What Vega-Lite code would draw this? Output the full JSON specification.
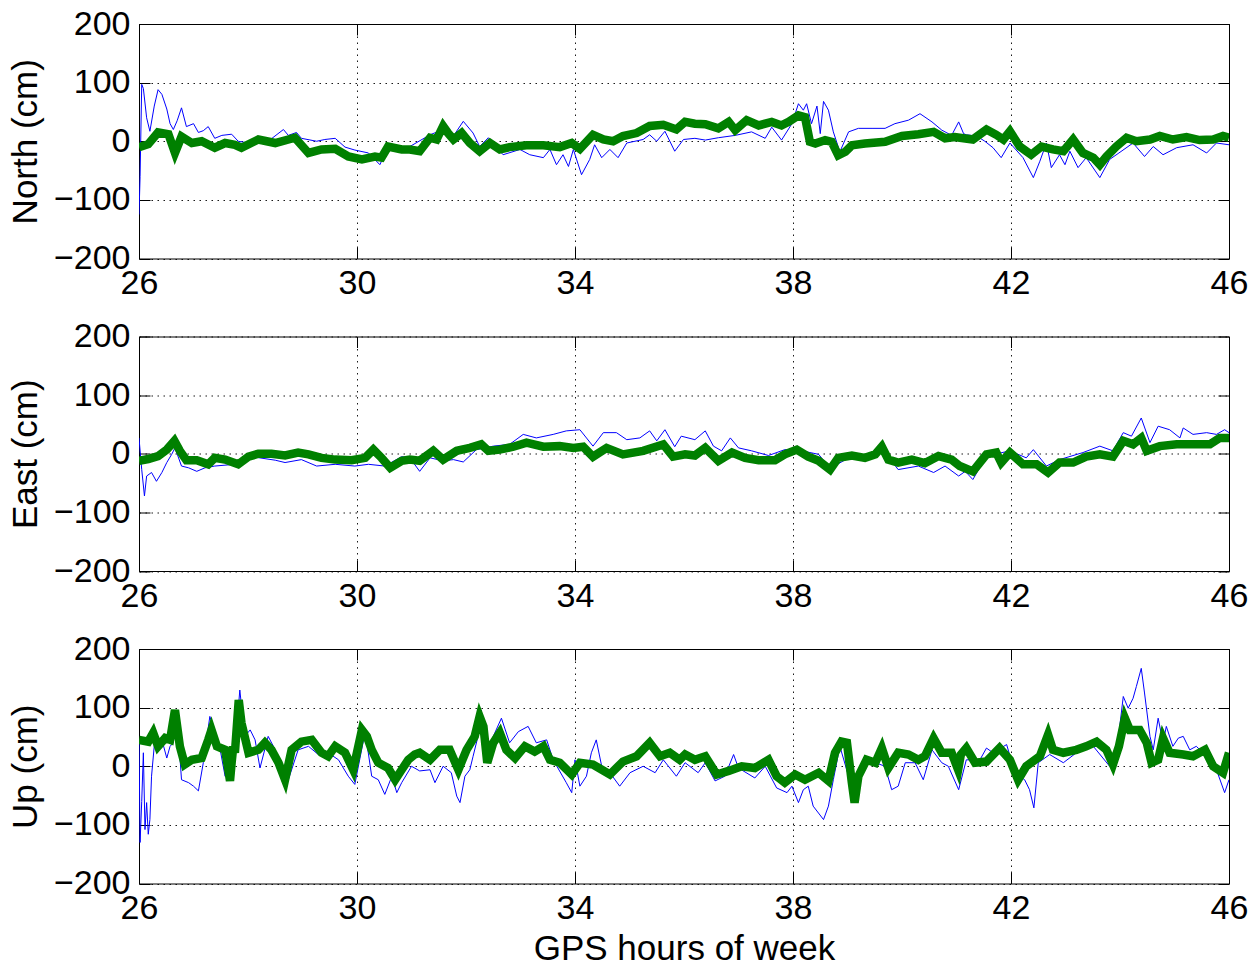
{
"$schema":"https://vega.github.io/schema/vega-lite/v6.json",
"background":"white",
"padding":{"left":7,"top":6,"right":0,"bottom":0},
"spacing":77.5,
"bounds":"flush",
"config":{
 "font":"Liberation Sans",
 "view":{"stroke":"#000","strokeWidth":1},
 "axis":{"labelFont":"Liberation Sans","labelFontSize":34,"labelColor":"#000","titleFont":"Liberation Sans","titleFontSize":35,"titleFontWeight":"normal","titleColor":"#000","domain":false,"grid":true,"gridColor":"#000","gridDash":[1.5,4.5],"gridOpacity":0.9,"tickColor":"#000","tickSize":-11,"labelFlush":false,"labelOverlap":false}
},
"data":{"values":[
{"c":"N","s":"b","t":26.0,"v":-125},{"c":"N","s":"b","t":26.02,"v":-60},{"c":"N","s":"b","t":26.05,"v":97},{"c":"N","s":"b","t":26.08,"v":90},{"c":"N","s":"b","t":26.14,"v":40},{"c":"N","s":"b","t":26.2,"v":17},{"c":"N","s":"b","t":26.28,"v":60},{"c":"N","s":"b","t":26.35,"v":88},{"c":"N","s":"b","t":26.42,"v":80},{"c":"N","s":"b","t":26.51,"v":55},{"c":"N","s":"b","t":26.57,"v":30},{"c":"N","s":"b","t":26.63,"v":20},{"c":"N","s":"b","t":26.7,"v":35},{"c":"N","s":"b","t":26.78,"v":57},{"c":"N","s":"b","t":26.87,"v":25},{"c":"N","s":"b","t":27.0,"v":30},{"c":"N","s":"b","t":27.09,"v":15},{"c":"N","s":"b","t":27.18,"v":18},{"c":"N","s":"b","t":27.27,"v":25},{"c":"N","s":"b","t":27.39,"v":5},{"c":"N","s":"b","t":27.52,"v":10},{"c":"N","s":"b","t":27.7,"v":12},{"c":"N","s":"b","t":27.82,"v":0},{"c":"N","s":"b","t":28.01,"v":-3},{"c":"N","s":"b","t":28.37,"v":0},{"c":"N","s":"b","t":28.65,"v":20},{"c":"N","s":"b","t":28.74,"v":10},{"c":"N","s":"b","t":28.89,"v":15},{"c":"N","s":"b","t":28.98,"v":5},{"c":"N","s":"b","t":29.26,"v":0},{"c":"N","s":"b","t":29.41,"v":3},{"c":"N","s":"b","t":29.6,"v":5},{"c":"N","s":"b","t":29.78,"v":-10},{"c":"N","s":"b","t":29.96,"v":-15},{"c":"N","s":"b","t":30.21,"v":-20},{"c":"N","s":"b","t":30.42,"v":-40},{"c":"N","s":"b","t":30.57,"v":-10},{"c":"N","s":"b","t":30.82,"v":-10},{"c":"N","s":"b","t":30.97,"v":-9},{"c":"N","s":"b","t":31.34,"v":11},{"c":"N","s":"b","t":31.58,"v":20},{"c":"N","s":"b","t":31.77,"v":9},{"c":"N","s":"b","t":31.95,"v":34},{"c":"N","s":"b","t":32.13,"v":14},{"c":"N","s":"b","t":32.25,"v":-9},{"c":"N","s":"b","t":32.41,"v":6},{"c":"N","s":"b","t":32.68,"v":-23},{"c":"N","s":"b","t":32.99,"v":-14},{"c":"N","s":"b","t":33.17,"v":-23},{"c":"N","s":"b","t":33.42,"v":-28},{"c":"N","s":"b","t":33.54,"v":-14},{"c":"N","s":"b","t":33.66,"v":-40},{"c":"N","s":"b","t":33.78,"v":-23},{"c":"N","s":"b","t":33.88,"v":-43},{"c":"N","s":"b","t":33.97,"v":-14},{"c":"N","s":"b","t":34.12,"v":-57},{"c":"N","s":"b","t":34.27,"v":-31},{"c":"N","s":"b","t":34.36,"v":-6},{"c":"N","s":"b","t":34.49,"v":-28},{"c":"N","s":"b","t":34.64,"v":-14},{"c":"N","s":"b","t":34.79,"v":-28},{"c":"N","s":"b","t":34.95,"v":-3},{"c":"N","s":"b","t":35.25,"v":3},{"c":"N","s":"b","t":35.37,"v":11},{"c":"N","s":"b","t":35.5,"v":0},{"c":"N","s":"b","t":35.65,"v":17},{"c":"N","s":"b","t":35.83,"v":-17},{"c":"N","s":"b","t":35.99,"v":3},{"c":"N","s":"b","t":36.2,"v":5},{"c":"N","s":"b","t":36.39,"v":2},{"c":"N","s":"b","t":36.63,"v":6},{"c":"N","s":"b","t":36.94,"v":10},{"c":"N","s":"b","t":37.24,"v":16},{"c":"N","s":"b","t":37.49,"v":5},{"c":"N","s":"b","t":37.61,"v":24},{"c":"N","s":"b","t":37.79,"v":2},{"c":"N","s":"b","t":37.98,"v":30},{"c":"N","s":"b","t":38.1,"v":64},{"c":"N","s":"b","t":38.19,"v":53},{"c":"N","s":"b","t":38.25,"v":64},{"c":"N","s":"b","t":38.34,"v":30},{"c":"N","s":"b","t":38.44,"v":60},{"c":"N","s":"b","t":38.5,"v":13},{"c":"N","s":"b","t":38.56,"v":68},{"c":"N","s":"b","t":38.65,"v":53},{"c":"N","s":"b","t":38.74,"v":16},{"c":"N","s":"b","t":38.86,"v":-18},{"c":"N","s":"b","t":39.02,"v":16},{"c":"N","s":"b","t":39.2,"v":22},{"c":"N","s":"b","t":39.45,"v":22},{"c":"N","s":"b","t":39.69,"v":22},{"c":"N","s":"b","t":39.87,"v":30},{"c":"N","s":"b","t":40.12,"v":36},{"c":"N","s":"b","t":40.33,"v":47},{"c":"N","s":"b","t":40.55,"v":33},{"c":"N","s":"b","t":40.73,"v":19},{"c":"N","s":"b","t":40.91,"v":10},{"c":"N","s":"b","t":41.04,"v":33},{"c":"N","s":"b","t":41.13,"v":13},{"c":"N","s":"b","t":41.18,"v":11},{"c":"N","s":"b","t":41.37,"v":9},{"c":"N","s":"b","t":41.52,"v":0},{"c":"N","s":"b","t":41.67,"v":-11},{"c":"N","s":"b","t":41.82,"v":-28},{"c":"N","s":"b","t":41.98,"v":-3},{"c":"N","s":"b","t":42.22,"v":-28},{"c":"N","s":"b","t":42.41,"v":-62},{"c":"N","s":"b","t":42.53,"v":-34},{"c":"N","s":"b","t":42.65,"v":-3},{"c":"N","s":"b","t":42.74,"v":-45},{"c":"N","s":"b","t":42.89,"v":-23},{"c":"N","s":"b","t":42.99,"v":-40},{"c":"N","s":"b","t":43.08,"v":-17},{"c":"N","s":"b","t":43.23,"v":-45},{"c":"N","s":"b","t":43.38,"v":-28},{"c":"N","s":"b","t":43.63,"v":-62},{"c":"N","s":"b","t":43.81,"v":-31},{"c":"N","s":"b","t":43.98,"v":-20},{"c":"N","s":"b","t":44.24,"v":-3},{"c":"N","s":"b","t":44.45,"v":-26},{"c":"N","s":"b","t":44.61,"v":-9},{"c":"N","s":"b","t":44.79,"v":-23},{"c":"N","s":"b","t":45.04,"v":-11},{"c":"N","s":"b","t":45.34,"v":-6},{"c":"N","s":"b","t":45.59,"v":-20},{"c":"N","s":"b","t":45.77,"v":-3},{"c":"N","s":"b","t":46.0,"v":-6},
{"c":"N","s":"g","t":26.0,"v":-10},{"c":"N","s":"g","t":26.17,"v":-5},{"c":"N","s":"g","t":26.35,"v":15},{"c":"N","s":"g","t":26.54,"v":12},{"c":"N","s":"g","t":26.66,"v":-20},{"c":"N","s":"g","t":26.78,"v":8},{"c":"N","s":"g","t":26.97,"v":-3},{"c":"N","s":"g","t":27.15,"v":0},{"c":"N","s":"g","t":27.39,"v":-11},{"c":"N","s":"g","t":27.58,"v":-3},{"c":"N","s":"g","t":27.76,"v":-6},{"c":"N","s":"g","t":27.88,"v":-11},{"c":"N","s":"g","t":28.19,"v":3},{"c":"N","s":"g","t":28.5,"v":-3},{"c":"N","s":"g","t":28.86,"v":6},{"c":"N","s":"g","t":29.11,"v":-20},{"c":"N","s":"g","t":29.35,"v":-14},{"c":"N","s":"g","t":29.6,"v":-13},{"c":"N","s":"g","t":29.84,"v":-26},{"c":"N","s":"g","t":30.09,"v":-31},{"c":"N","s":"g","t":30.33,"v":-26},{"c":"N","s":"g","t":30.45,"v":-28},{"c":"N","s":"g","t":30.57,"v":-9},{"c":"N","s":"g","t":30.82,"v":-14},{"c":"N","s":"g","t":30.97,"v":-14},{"c":"N","s":"g","t":31.15,"v":-17},{"c":"N","s":"g","t":31.34,"v":6},{"c":"N","s":"g","t":31.46,"v":3},{"c":"N","s":"g","t":31.58,"v":26},{"c":"N","s":"g","t":31.67,"v":14},{"c":"N","s":"g","t":31.77,"v":3},{"c":"N","s":"g","t":31.92,"v":14},{"c":"N","s":"g","t":32.07,"v":-3},{"c":"N","s":"g","t":32.25,"v":-17},{"c":"N","s":"g","t":32.44,"v":-3},{"c":"N","s":"g","t":32.62,"v":-14},{"c":"N","s":"g","t":32.8,"v":-10},{"c":"N","s":"g","t":33.11,"v":-7},{"c":"N","s":"g","t":33.42,"v":-7},{"c":"N","s":"g","t":33.72,"v":-10},{"c":"N","s":"g","t":33.94,"v":-3},{"c":"N","s":"g","t":34.09,"v":-13},{"c":"N","s":"g","t":34.33,"v":11},{"c":"N","s":"g","t":34.52,"v":3},{"c":"N","s":"g","t":34.7,"v":0},{"c":"N","s":"g","t":34.88,"v":9},{"c":"N","s":"g","t":35.13,"v":14},{"c":"N","s":"g","t":35.37,"v":26},{"c":"N","s":"g","t":35.62,"v":28},{"c":"N","s":"g","t":35.86,"v":20},{"c":"N","s":"g","t":36.02,"v":33},{"c":"N","s":"g","t":36.2,"v":30},{"c":"N","s":"g","t":36.39,"v":29},{"c":"N","s":"g","t":36.63,"v":22},{"c":"N","s":"g","t":36.82,"v":33},{"c":"N","s":"g","t":36.94,"v":19},{"c":"N","s":"g","t":37.15,"v":36},{"c":"N","s":"g","t":37.37,"v":27},{"c":"N","s":"g","t":37.61,"v":33},{"c":"N","s":"g","t":37.79,"v":27},{"c":"N","s":"g","t":37.92,"v":33},{"c":"N","s":"g","t":38.1,"v":44},{"c":"N","s":"g","t":38.22,"v":41},{"c":"N","s":"g","t":38.31,"v":-1},{"c":"N","s":"g","t":38.41,"v":-4},{"c":"N","s":"g","t":38.59,"v":2},{"c":"N","s":"g","t":38.71,"v":-1},{"c":"N","s":"g","t":38.83,"v":-24},{"c":"N","s":"g","t":38.96,"v":-18},{"c":"N","s":"g","t":39.08,"v":-7},{"c":"N","s":"g","t":39.32,"v":-4},{"c":"N","s":"g","t":39.69,"v":-1},{"c":"N","s":"g","t":40.0,"v":9},{"c":"N","s":"g","t":40.3,"v":12},{"c":"N","s":"g","t":40.58,"v":16},{"c":"N","s":"g","t":40.79,"v":5},{"c":"N","s":"g","t":40.97,"v":7},{"c":"N","s":"g","t":41.06,"v":6},{"c":"N","s":"g","t":41.3,"v":3},{"c":"N","s":"g","t":41.55,"v":20},{"c":"N","s":"g","t":41.73,"v":11},{"c":"N","s":"g","t":41.86,"v":3},{"c":"N","s":"g","t":41.98,"v":17},{"c":"N","s":"g","t":42.16,"v":-9},{"c":"N","s":"g","t":42.37,"v":-23},{"c":"N","s":"g","t":42.56,"v":-9},{"c":"N","s":"g","t":42.77,"v":-14},{"c":"N","s":"g","t":42.96,"v":-17},{"c":"N","s":"g","t":43.14,"v":3},{"c":"N","s":"g","t":43.32,"v":-20},{"c":"N","s":"g","t":43.51,"v":-28},{"c":"N","s":"g","t":43.63,"v":-40},{"c":"N","s":"g","t":43.75,"v":-26},{"c":"N","s":"g","t":43.93,"v":-9},{"c":"N","s":"g","t":44.12,"v":6},{"c":"N","s":"g","t":44.3,"v":0},{"c":"N","s":"g","t":44.55,"v":3},{"c":"N","s":"g","t":44.73,"v":9},{"c":"N","s":"g","t":44.97,"v":3},{"c":"N","s":"g","t":45.22,"v":7},{"c":"N","s":"g","t":45.46,"v":2},{"c":"N","s":"g","t":45.71,"v":3},{"c":"N","s":"g","t":45.89,"v":9},{"c":"N","s":"g","t":46.0,"v":6},
{"c":"E","s":"b","t":26.0,"v":27},{"c":"E","s":"b","t":26.05,"v":-27},{"c":"E","s":"b","t":26.1,"v":-72},{"c":"E","s":"b","t":26.14,"v":-38},{"c":"E","s":"b","t":26.23,"v":-32},{"c":"E","s":"b","t":26.32,"v":-47},{"c":"E","s":"b","t":26.42,"v":-32},{"c":"E","s":"b","t":26.51,"v":-15},{"c":"E","s":"b","t":26.6,"v":-1},{"c":"E","s":"b","t":26.66,"v":10},{"c":"E","s":"b","t":26.78,"v":-21},{"c":"E","s":"b","t":26.91,"v":-24},{"c":"E","s":"b","t":27.06,"v":-30},{"c":"E","s":"b","t":27.21,"v":-24},{"c":"E","s":"b","t":27.39,"v":-21},{"c":"E","s":"b","t":27.76,"v":-18},{"c":"E","s":"b","t":28.07,"v":-5},{"c":"E","s":"b","t":28.5,"v":-11},{"c":"E","s":"b","t":28.68,"v":-15},{"c":"E","s":"b","t":28.98,"v":-10},{"c":"E","s":"b","t":29.26,"v":-21},{"c":"E","s":"b","t":29.6,"v":-18},{"c":"E","s":"b","t":29.96,"v":-21},{"c":"E","s":"b","t":30.21,"v":-18},{"c":"E","s":"b","t":30.51,"v":-21},{"c":"E","s":"b","t":30.82,"v":-5},{"c":"E","s":"b","t":30.97,"v":-7},{"c":"E","s":"b","t":31.15,"v":-30},{"c":"E","s":"b","t":31.34,"v":-7},{"c":"E","s":"b","t":31.58,"v":-12},{"c":"E","s":"b","t":31.77,"v":-10},{"c":"E","s":"b","t":31.95,"v":-14},{"c":"E","s":"b","t":32.19,"v":7},{"c":"E","s":"b","t":32.5,"v":13},{"c":"E","s":"b","t":32.8,"v":16},{"c":"E","s":"b","t":33.05,"v":33},{"c":"E","s":"b","t":33.29,"v":27},{"c":"E","s":"b","t":33.6,"v":33},{"c":"E","s":"b","t":33.84,"v":39},{"c":"E","s":"b","t":34.09,"v":41},{"c":"E","s":"b","t":34.33,"v":13},{"c":"E","s":"b","t":34.52,"v":36},{"c":"E","s":"b","t":34.76,"v":36},{"c":"E","s":"b","t":34.95,"v":24},{"c":"E","s":"b","t":35.19,"v":27},{"c":"E","s":"b","t":35.37,"v":39},{"c":"E","s":"b","t":35.5,"v":22},{"c":"E","s":"b","t":35.65,"v":41},{"c":"E","s":"b","t":35.83,"v":12},{"c":"E","s":"b","t":35.95,"v":30},{"c":"E","s":"b","t":36.2,"v":24},{"c":"E","s":"b","t":36.39,"v":39},{"c":"E","s":"b","t":36.54,"v":13},{"c":"E","s":"b","t":36.69,"v":5},{"c":"E","s":"b","t":36.85,"v":27},{"c":"E","s":"b","t":37.0,"v":10},{"c":"E","s":"b","t":37.24,"v":5},{"c":"E","s":"b","t":37.55,"v":-3},{"c":"E","s":"b","t":37.85,"v":7},{"c":"E","s":"b","t":38.16,"v":5},{"c":"E","s":"b","t":38.47,"v":-1},{"c":"E","s":"b","t":38.68,"v":-25},{"c":"E","s":"b","t":39.08,"v":-4},{"c":"E","s":"b","t":39.51,"v":-1},{"c":"E","s":"b","t":39.63,"v":10},{"c":"E","s":"b","t":39.93,"v":-27},{"c":"E","s":"b","t":40.3,"v":-21},{"c":"E","s":"b","t":40.58,"v":-32},{"c":"E","s":"b","t":40.79,"v":-21},{"c":"E","s":"b","t":41.04,"v":-38},{"c":"E","s":"b","t":41.16,"v":-30},{"c":"E","s":"b","t":41.3,"v":-44},{"c":"E","s":"b","t":41.55,"v":-4},{"c":"E","s":"b","t":41.98,"v":5},{"c":"E","s":"b","t":42.28,"v":-7},{"c":"E","s":"b","t":42.41,"v":7},{"c":"E","s":"b","t":42.65,"v":-21},{"c":"E","s":"b","t":42.89,"v":-10},{"c":"E","s":"b","t":43.32,"v":2},{"c":"E","s":"b","t":43.63,"v":13},{"c":"E","s":"b","t":43.87,"v":5},{"c":"E","s":"b","t":44.06,"v":36},{"c":"E","s":"b","t":44.21,"v":30},{"c":"E","s":"b","t":44.39,"v":61},{"c":"E","s":"b","t":44.55,"v":19},{"c":"E","s":"b","t":44.7,"v":47},{"c":"E","s":"b","t":44.91,"v":41},{"c":"E","s":"b","t":45.1,"v":27},{"c":"E","s":"b","t":45.16,"v":44},{"c":"E","s":"b","t":45.34,"v":33},{"c":"E","s":"b","t":45.59,"v":36},{"c":"E","s":"b","t":45.77,"v":33},{"c":"E","s":"b","t":45.92,"v":41},{"c":"E","s":"b","t":46.0,"v":36},
{"c":"E","s":"g","t":26.0,"v":-12},{"c":"E","s":"g","t":26.17,"v":-9},{"c":"E","s":"g","t":26.35,"v":-4},{"c":"E","s":"g","t":26.51,"v":7},{"c":"E","s":"g","t":26.65,"v":22},{"c":"E","s":"g","t":26.75,"v":5},{"c":"E","s":"g","t":26.87,"v":-11},{"c":"E","s":"g","t":27.06,"v":-11},{"c":"E","s":"g","t":27.27,"v":-18},{"c":"E","s":"g","t":27.39,"v":-7},{"c":"E","s":"g","t":27.58,"v":-10},{"c":"E","s":"g","t":27.82,"v":-18},{"c":"E","s":"g","t":28.01,"v":-5},{"c":"E","s":"g","t":28.19,"v":0},{"c":"E","s":"g","t":28.43,"v":0},{"c":"E","s":"g","t":28.68,"v":-3},{"c":"E","s":"g","t":28.92,"v":2},{"c":"E","s":"g","t":29.11,"v":-1},{"c":"E","s":"g","t":29.35,"v":-7},{"c":"E","s":"g","t":29.6,"v":-10},{"c":"E","s":"g","t":29.9,"v":-11},{"c":"E","s":"g","t":30.15,"v":-7},{"c":"E","s":"g","t":30.3,"v":7},{"c":"E","s":"g","t":30.45,"v":-7},{"c":"E","s":"g","t":30.61,"v":-24},{"c":"E","s":"g","t":30.82,"v":-12},{"c":"E","s":"g","t":30.97,"v":-10},{"c":"E","s":"g","t":31.15,"v":-12},{"c":"E","s":"g","t":31.4,"v":5},{"c":"E","s":"g","t":31.58,"v":-10},{"c":"E","s":"g","t":31.83,"v":5},{"c":"E","s":"g","t":32.07,"v":10},{"c":"E","s":"g","t":32.28,"v":16},{"c":"E","s":"g","t":32.41,"v":5},{"c":"E","s":"g","t":32.62,"v":7},{"c":"E","s":"g","t":32.87,"v":12},{"c":"E","s":"g","t":33.11,"v":19},{"c":"E","s":"g","t":33.42,"v":12},{"c":"E","s":"g","t":33.72,"v":13},{"c":"E","s":"g","t":33.97,"v":10},{"c":"E","s":"g","t":34.15,"v":12},{"c":"E","s":"g","t":34.33,"v":-5},{"c":"E","s":"g","t":34.58,"v":10},{"c":"E","s":"g","t":34.88,"v":-1},{"c":"E","s":"g","t":35.25,"v":5},{"c":"E","s":"g","t":35.62,"v":16},{"c":"E","s":"g","t":35.8,"v":-5},{"c":"E","s":"g","t":36.02,"v":-1},{"c":"E","s":"g","t":36.2,"v":-3},{"c":"E","s":"g","t":36.39,"v":10},{"c":"E","s":"g","t":36.63,"v":-12},{"c":"E","s":"g","t":36.88,"v":2},{"c":"E","s":"g","t":37.12,"v":-7},{"c":"E","s":"g","t":37.37,"v":-11},{"c":"E","s":"g","t":37.67,"v":-11},{"c":"E","s":"g","t":37.85,"v":-1},{"c":"E","s":"g","t":38.07,"v":7},{"c":"E","s":"g","t":38.28,"v":-5},{"c":"E","s":"g","t":38.47,"v":-12},{"c":"E","s":"g","t":38.68,"v":-27},{"c":"E","s":"g","t":38.83,"v":-7},{"c":"E","s":"g","t":39.08,"v":-3},{"c":"E","s":"g","t":39.32,"v":-7},{"c":"E","s":"g","t":39.51,"v":-1},{"c":"E","s":"g","t":39.63,"v":12},{"c":"E","s":"g","t":39.75,"v":-10},{"c":"E","s":"g","t":39.93,"v":-15},{"c":"E","s":"g","t":40.18,"v":-10},{"c":"E","s":"g","t":40.42,"v":-16},{"c":"E","s":"g","t":40.67,"v":-4},{"c":"E","s":"g","t":40.91,"v":-10},{"c":"E","s":"g","t":41.06,"v":-21},{"c":"E","s":"g","t":41.3,"v":-30},{"c":"E","s":"g","t":41.55,"v":-1},{"c":"E","s":"g","t":41.73,"v":2},{"c":"E","s":"g","t":41.82,"v":-15},{"c":"E","s":"g","t":41.98,"v":2},{"c":"E","s":"g","t":42.22,"v":-18},{"c":"E","s":"g","t":42.47,"v":-18},{"c":"E","s":"g","t":42.68,"v":-32},{"c":"E","s":"g","t":42.89,"v":-15},{"c":"E","s":"g","t":43.14,"v":-15},{"c":"E","s":"g","t":43.38,"v":-5},{"c":"E","s":"g","t":43.63,"v":-1},{"c":"E","s":"g","t":43.87,"v":-5},{"c":"E","s":"g","t":44.06,"v":22},{"c":"E","s":"g","t":44.24,"v":16},{"c":"E","s":"g","t":44.39,"v":27},{"c":"E","s":"g","t":44.49,"v":5},{"c":"E","s":"g","t":44.73,"v":13},{"c":"E","s":"g","t":45.04,"v":16},{"c":"E","s":"g","t":45.34,"v":16},{"c":"E","s":"g","t":45.65,"v":16},{"c":"E","s":"g","t":45.83,"v":27},{"c":"E","s":"g","t":46.0,"v":27},
{"c":"U","s":"b","t":26.0,"v":45},{"c":"U","s":"b","t":26.02,"v":-130},{"c":"U","s":"b","t":26.05,"v":-60},{"c":"U","s":"b","t":26.08,"v":23},{"c":"U","s":"b","t":26.11,"v":-108},{"c":"U","s":"b","t":26.14,"v":-62},{"c":"U","s":"b","t":26.17,"v":-116},{"c":"U","s":"b","t":26.2,"v":-91},{"c":"U","s":"b","t":26.23,"v":-17},{"c":"U","s":"b","t":26.29,"v":45},{"c":"U","s":"b","t":26.35,"v":28},{"c":"U","s":"b","t":26.42,"v":45},{"c":"U","s":"b","t":26.51,"v":14},{"c":"U","s":"b","t":26.57,"v":34},{"c":"U","s":"b","t":26.63,"v":40},{"c":"U","s":"b","t":26.69,"v":96},{"c":"U","s":"b","t":26.78,"v":-23},{"c":"U","s":"b","t":26.91,"v":-28},{"c":"U","s":"b","t":27.0,"v":-34},{"c":"U","s":"b","t":27.09,"v":-42},{"c":"U","s":"b","t":27.18,"v":6},{"c":"U","s":"b","t":27.3,"v":85},{"c":"U","s":"b","t":27.39,"v":57},{"c":"U","s":"b","t":27.49,"v":28},{"c":"U","s":"b","t":27.58,"v":-17},{"c":"U","s":"b","t":27.7,"v":11},{"c":"U","s":"b","t":27.76,"v":28},{"c":"U","s":"b","t":27.85,"v":130},{"c":"U","s":"b","t":27.94,"v":51},{"c":"U","s":"b","t":28.04,"v":62},{"c":"U","s":"b","t":28.13,"v":45},{"c":"U","s":"b","t":28.22,"v":-3},{"c":"U","s":"b","t":28.37,"v":51},{"c":"U","s":"b","t":28.5,"v":28},{"c":"U","s":"b","t":28.62,"v":-6},{"c":"U","s":"b","t":28.74,"v":-23},{"c":"U","s":"b","t":28.92,"v":28},{"c":"U","s":"b","t":29.11,"v":34},{"c":"U","s":"b","t":29.29,"v":20},{"c":"U","s":"b","t":29.47,"v":23},{"c":"U","s":"b","t":29.66,"v":11},{"c":"U","s":"b","t":29.84,"v":-17},{"c":"U","s":"b","t":29.96,"v":-31},{"c":"U","s":"b","t":30.15,"v":59},{"c":"U","s":"b","t":30.27,"v":-17},{"c":"U","s":"b","t":30.39,"v":-23},{"c":"U","s":"b","t":30.51,"v":-48},{"c":"U","s":"b","t":30.64,"v":-17},{"c":"U","s":"b","t":30.73,"v":-45},{"c":"U","s":"b","t":30.82,"v":-28},{"c":"U","s":"b","t":31.0,"v":0},{"c":"U","s":"b","t":31.15,"v":-8},{"c":"U","s":"b","t":31.34,"v":-6},{"c":"U","s":"b","t":31.43,"v":-28},{"c":"U","s":"b","t":31.58,"v":0},{"c":"U","s":"b","t":31.73,"v":-11},{"c":"U","s":"b","t":31.83,"v":-51},{"c":"U","s":"b","t":31.89,"v":-62},{"c":"U","s":"b","t":31.98,"v":-17},{"c":"U","s":"b","t":32.07,"v":-6},{"c":"U","s":"b","t":32.13,"v":17},{"c":"U","s":"b","t":32.22,"v":51},{"c":"U","s":"b","t":32.28,"v":96},{"c":"U","s":"b","t":32.38,"v":11},{"c":"U","s":"b","t":32.5,"v":51},{"c":"U","s":"b","t":32.65,"v":82},{"c":"U","s":"b","t":32.8,"v":40},{"c":"U","s":"b","t":32.96,"v":59},{"c":"U","s":"b","t":33.14,"v":68},{"c":"U","s":"b","t":33.29,"v":40},{"c":"U","s":"b","t":33.48,"v":45},{"c":"U","s":"b","t":33.6,"v":11},{"c":"U","s":"b","t":33.84,"v":-28},{"c":"U","s":"b","t":33.94,"v":-45},{"c":"U","s":"b","t":34.0,"v":11},{"c":"U","s":"b","t":34.09,"v":-34},{"c":"U","s":"b","t":34.21,"v":-17},{"c":"U","s":"b","t":34.3,"v":23},{"c":"U","s":"b","t":34.39,"v":45},{"c":"U","s":"b","t":34.49,"v":0},{"c":"U","s":"b","t":34.64,"v":-11},{"c":"U","s":"b","t":34.82,"v":-34},{"c":"U","s":"b","t":35.01,"v":-11},{"c":"U","s":"b","t":35.25,"v":0},{"c":"U","s":"b","t":35.47,"v":-11},{"c":"U","s":"b","t":35.62,"v":11},{"c":"U","s":"b","t":35.86,"v":-17},{"c":"U","s":"b","t":36.02,"v":6},{"c":"U","s":"b","t":36.26,"v":-11},{"c":"U","s":"b","t":36.39,"v":6},{"c":"U","s":"b","t":36.57,"v":-25},{"c":"U","s":"b","t":36.75,"v":-17},{"c":"U","s":"b","t":36.91,"v":20},{"c":"U","s":"b","t":37.0,"v":-3},{"c":"U","s":"b","t":37.3,"v":-20},{"c":"U","s":"b","t":37.49,"v":0},{"c":"U","s":"b","t":37.7,"v":-37},{"c":"U","s":"b","t":37.89,"v":-45},{"c":"U","s":"b","t":37.98,"v":-34},{"c":"U","s":"b","t":38.1,"v":-62},{"c":"U","s":"b","t":38.19,"v":-40},{"c":"U","s":"b","t":38.28,"v":-34},{"c":"U","s":"b","t":38.37,"v":-68},{"c":"U","s":"b","t":38.56,"v":-91},{"c":"U","s":"b","t":38.65,"v":-68},{"c":"U","s":"b","t":38.74,"v":-23},{"c":"U","s":"b","t":38.86,"v":34},{"c":"U","s":"b","t":39.02,"v":-17},{"c":"U","s":"b","t":39.11,"v":-62},{"c":"U","s":"b","t":39.2,"v":-17},{"c":"U","s":"b","t":39.32,"v":17},{"c":"U","s":"b","t":39.51,"v":6},{"c":"U","s":"b","t":39.69,"v":0},{"c":"U","s":"b","t":39.81,"v":-40},{"c":"U","s":"b","t":39.93,"v":-34},{"c":"U","s":"b","t":40.06,"v":6},{"c":"U","s":"b","t":40.24,"v":6},{"c":"U","s":"b","t":40.39,"v":-23},{"c":"U","s":"b","t":40.55,"v":28},{"c":"U","s":"b","t":40.73,"v":6},{"c":"U","s":"b","t":40.85,"v":0},{"c":"U","s":"b","t":41.04,"v":-40},{"c":"U","s":"b","t":41.18,"v":11},{"c":"U","s":"b","t":41.43,"v":11},{"c":"U","s":"b","t":41.55,"v":31},{"c":"U","s":"b","t":41.67,"v":23},{"c":"U","s":"b","t":41.92,"v":37},{"c":"U","s":"b","t":42.07,"v":-11},{"c":"U","s":"b","t":42.25,"v":-23},{"c":"U","s":"b","t":42.34,"v":-40},{"c":"U","s":"b","t":42.42,"v":-71},{"c":"U","s":"b","t":42.5,"v":6},{"c":"U","s":"b","t":42.71,"v":20},{"c":"U","s":"b","t":42.96,"v":6},{"c":"U","s":"b","t":43.2,"v":23},{"c":"U","s":"b","t":43.51,"v":34},{"c":"U","s":"b","t":43.81,"v":0},{"c":"U","s":"b","t":43.93,"v":17},{"c":"U","s":"b","t":44.06,"v":119},{"c":"U","s":"b","t":44.15,"v":99},{"c":"U","s":"b","t":44.24,"v":116},{"c":"U","s":"b","t":44.3,"v":136},{"c":"U","s":"b","t":44.39,"v":167},{"c":"U","s":"b","t":44.45,"v":125},{"c":"U","s":"b","t":44.55,"v":51},{"c":"U","s":"b","t":44.61,"v":28},{"c":"U","s":"b","t":44.7,"v":82},{"c":"U","s":"b","t":44.79,"v":40},{"c":"U","s":"b","t":44.85,"v":68},{"c":"U","s":"b","t":44.97,"v":34},{"c":"U","s":"b","t":45.07,"v":48},{"c":"U","s":"b","t":45.16,"v":51},{"c":"U","s":"b","t":45.28,"v":28},{"c":"U","s":"b","t":45.4,"v":34},{"c":"U","s":"b","t":45.59,"v":17},{"c":"U","s":"b","t":45.77,"v":-6},{"c":"U","s":"b","t":45.92,"v":-45},{"c":"U","s":"b","t":46.0,"v":-23},
{"c":"U","s":"g","t":26.0,"v":45},{"c":"U","s":"g","t":26.17,"v":42},{"c":"U","s":"g","t":26.26,"v":57},{"c":"U","s":"g","t":26.35,"v":34},{"c":"U","s":"g","t":26.48,"v":48},{"c":"U","s":"g","t":26.57,"v":45},{"c":"U","s":"g","t":26.66,"v":96},{"c":"U","s":"g","t":26.75,"v":34},{"c":"U","s":"g","t":26.84,"v":3},{"c":"U","s":"g","t":26.97,"v":11},{"c":"U","s":"g","t":27.15,"v":14},{"c":"U","s":"g","t":27.27,"v":45},{"c":"U","s":"g","t":27.33,"v":62},{"c":"U","s":"g","t":27.43,"v":34},{"c":"U","s":"g","t":27.58,"v":28},{"c":"U","s":"g","t":27.67,"v":-25},{"c":"U","s":"g","t":27.7,"v":6},{"c":"U","s":"g","t":27.73,"v":34},{"c":"U","s":"g","t":27.76,"v":23},{"c":"U","s":"g","t":27.83,"v":113},{"c":"U","s":"g","t":27.88,"v":74},{"c":"U","s":"g","t":28.01,"v":23},{"c":"U","s":"g","t":28.19,"v":28},{"c":"U","s":"g","t":28.31,"v":40},{"c":"U","s":"g","t":28.43,"v":28},{"c":"U","s":"g","t":28.56,"v":6},{"c":"U","s":"g","t":28.68,"v":-23},{"c":"U","s":"g","t":28.8,"v":28},{"c":"U","s":"g","t":28.98,"v":42},{"c":"U","s":"g","t":29.17,"v":45},{"c":"U","s":"g","t":29.35,"v":23},{"c":"U","s":"g","t":29.47,"v":17},{"c":"U","s":"g","t":29.6,"v":34},{"c":"U","s":"g","t":29.78,"v":23},{"c":"U","s":"g","t":29.93,"v":-6},{"c":"U","s":"g","t":30.09,"v":62},{"c":"U","s":"g","t":30.18,"v":51},{"c":"U","s":"g","t":30.27,"v":28},{"c":"U","s":"g","t":30.39,"v":6},{"c":"U","s":"g","t":30.57,"v":-3},{"c":"U","s":"g","t":30.7,"v":-23},{"c":"U","s":"g","t":30.82,"v":-6},{"c":"U","s":"g","t":30.94,"v":11},{"c":"U","s":"g","t":31.06,"v":20},{"c":"U","s":"g","t":31.15,"v":23},{"c":"U","s":"g","t":31.34,"v":11},{"c":"U","s":"g","t":31.52,"v":28},{"c":"U","s":"g","t":31.7,"v":28},{"c":"U","s":"g","t":31.86,"v":-6},{"c":"U","s":"g","t":32.01,"v":28},{"c":"U","s":"g","t":32.16,"v":51},{"c":"U","s":"g","t":32.25,"v":85},{"c":"U","s":"g","t":32.32,"v":68},{"c":"U","s":"g","t":32.39,"v":6},{"c":"U","s":"g","t":32.5,"v":40},{"c":"U","s":"g","t":32.62,"v":57},{"c":"U","s":"g","t":32.74,"v":28},{"c":"U","s":"g","t":32.9,"v":14},{"c":"U","s":"g","t":33.08,"v":34},{"c":"U","s":"g","t":33.26,"v":25},{"c":"U","s":"g","t":33.42,"v":34},{"c":"U","s":"g","t":33.54,"v":11},{"c":"U","s":"g","t":33.72,"v":6},{"c":"U","s":"g","t":33.94,"v":-14},{"c":"U","s":"g","t":34.09,"v":6},{"c":"U","s":"g","t":34.33,"v":3},{"c":"U","s":"g","t":34.64,"v":-14},{"c":"U","s":"g","t":34.88,"v":8},{"c":"U","s":"g","t":35.13,"v":17},{"c":"U","s":"g","t":35.37,"v":40},{"c":"U","s":"g","t":35.56,"v":17},{"c":"U","s":"g","t":35.74,"v":23},{"c":"U","s":"g","t":35.92,"v":11},{"c":"U","s":"g","t":36.02,"v":20},{"c":"U","s":"g","t":36.2,"v":11},{"c":"U","s":"g","t":36.39,"v":17},{"c":"U","s":"g","t":36.6,"v":-14},{"c":"U","s":"g","t":36.82,"v":-8},{"c":"U","s":"g","t":37.06,"v":0},{"c":"U","s":"g","t":37.3,"v":-3},{"c":"U","s":"g","t":37.55,"v":11},{"c":"U","s":"g","t":37.7,"v":-17},{"c":"U","s":"g","t":37.85,"v":-28},{"c":"U","s":"g","t":38.04,"v":-14},{"c":"U","s":"g","t":38.22,"v":-23},{"c":"U","s":"g","t":38.47,"v":-11},{"c":"U","s":"g","t":38.65,"v":-25},{"c":"U","s":"g","t":38.77,"v":23},{"c":"U","s":"g","t":38.89,"v":42},{"c":"U","s":"g","t":38.99,"v":40},{"c":"U","s":"g","t":39.08,"v":-28},{"c":"U","s":"g","t":39.13,"v":-62},{"c":"U","s":"g","t":39.2,"v":-17},{"c":"U","s":"g","t":39.35,"v":11},{"c":"U","s":"g","t":39.51,"v":6},{"c":"U","s":"g","t":39.63,"v":31},{"c":"U","s":"g","t":39.75,"v":-3},{"c":"U","s":"g","t":39.93,"v":23},{"c":"U","s":"g","t":40.12,"v":20},{"c":"U","s":"g","t":40.3,"v":11},{"c":"U","s":"g","t":40.42,"v":17},{"c":"U","s":"g","t":40.58,"v":48},{"c":"U","s":"g","t":40.73,"v":23},{"c":"U","s":"g","t":40.91,"v":23},{"c":"U","s":"g","t":41.03,"v":-6},{"c":"U","s":"g","t":41.08,"v":20},{"c":"U","s":"g","t":41.18,"v":31},{"c":"U","s":"g","t":41.34,"v":6},{"c":"U","s":"g","t":41.55,"v":8},{"c":"U","s":"g","t":41.79,"v":31},{"c":"U","s":"g","t":41.98,"v":11},{"c":"U","s":"g","t":42.13,"v":-23},{"c":"U","s":"g","t":42.28,"v":0},{"c":"U","s":"g","t":42.53,"v":17},{"c":"U","s":"g","t":42.68,"v":54},{"c":"U","s":"g","t":42.77,"v":28},{"c":"U","s":"g","t":42.96,"v":23},{"c":"U","s":"g","t":43.2,"v":28},{"c":"U","s":"g","t":43.38,"v":34},{"c":"U","s":"g","t":43.57,"v":42},{"c":"U","s":"g","t":43.75,"v":28},{"c":"U","s":"g","t":43.87,"v":3},{"c":"U","s":"g","t":43.98,"v":34},{"c":"U","s":"g","t":44.09,"v":82},{"c":"U","s":"g","t":44.18,"v":62},{"c":"U","s":"g","t":44.36,"v":62},{"c":"U","s":"g","t":44.49,"v":40},{"c":"U","s":"g","t":44.58,"v":6},{"c":"U","s":"g","t":44.7,"v":11},{"c":"U","s":"g","t":44.79,"v":48},{"c":"U","s":"g","t":44.91,"v":23},{"c":"U","s":"g","t":45.16,"v":20},{"c":"U","s":"g","t":45.34,"v":17},{"c":"U","s":"g","t":45.56,"v":28},{"c":"U","s":"g","t":45.71,"v":0},{"c":"U","s":"g","t":45.89,"v":-11},{"c":"U","s":"g","t":46.0,"v":23}
]},
"vconcat":[
 {"width":1090,"height":234.5,
  "transform":[{"filter":"datum.c==='N'"}],
  "encoding":{
   "x":{"field":"t","type":"quantitative","scale":{"domain":[26,46],"nice":false,"zero":false},"axis":{"values":[26,30,34,38,42,46],"title":null,"labelPadding":19}},
   "y":{"field":"v","type":"quantitative","scale":{"domain":[-200,200],"nice":false},"axis":{"values":[-200,-100,0,100,200],"title":"North (cm)","labelPadding":20,"titlePadding":10}}
  },
  "resolve":{"axis":{"x":"independent","y":"independent"}},
  "layer":[
   {"transform":[{"filter":"datum.s==='b'"}],"mark":{"type":"line","color":"#0000ff","strokeWidth":1,"clip":true}},
   {"transform":[{"filter":"datum.s==='g'"}],"mark":{"type":"line","color":"#008000","strokeWidth":8.5,"clip":true},
    "encoding":{
     "x":{"field":"t","type":"quantitative","axis":{"orient":"top","labels":false,"grid":false,"title":null,"values":[26,30,34,38,42,46]}},
     "y":{"field":"v","type":"quantitative","axis":{"orient":"right","labels":false,"grid":false,"title":null,"values":[-200,-100,0,100,200]}}
    }}
  ]
 },
 {"width":1090,"height":234.5,
  "transform":[{"filter":"datum.c==='E'"}],
  "encoding":{
   "x":{"field":"t","type":"quantitative","scale":{"domain":[26,46],"nice":false,"zero":false},"axis":{"values":[26,30,34,38,42,46],"title":null,"labelPadding":19}},
   "y":{"field":"v","type":"quantitative","scale":{"domain":[-200,200],"nice":false},"axis":{"values":[-200,-100,0,100,200],"title":"East (cm)","labelPadding":20,"titlePadding":10}}
  },
  "resolve":{"axis":{"x":"independent","y":"independent"}},
  "layer":[
   {"transform":[{"filter":"datum.s==='b'"}],"mark":{"type":"line","color":"#0000ff","strokeWidth":1,"clip":true}},
   {"transform":[{"filter":"datum.s==='g'"}],"mark":{"type":"line","color":"#008000","strokeWidth":8.5,"clip":true},
    "encoding":{
     "x":{"field":"t","type":"quantitative","axis":{"orient":"top","labels":false,"grid":false,"title":null,"values":[26,30,34,38,42,46]}},
     "y":{"field":"v","type":"quantitative","axis":{"orient":"right","labels":false,"grid":false,"title":null,"values":[-200,-100,0,100,200]}}
    }}
  ]
 },
 {"width":1090,"height":234.5,
  "transform":[{"filter":"datum.c==='U'"}],
  "encoding":{
   "x":{"field":"t","type":"quantitative","scale":{"domain":[26,46],"nice":false,"zero":false},"axis":{"values":[26,30,34,38,42,46],"title":"GPS hours of week","labelPadding":19,"titlePadding":6}},
   "y":{"field":"v","type":"quantitative","scale":{"domain":[-200,200],"nice":false},"axis":{"values":[-200,-100,0,100,200],"title":"Up (cm)","labelPadding":20,"titlePadding":10}}
  },
  "resolve":{"axis":{"x":"independent","y":"independent"}},
  "layer":[
   {"transform":[{"filter":"datum.s==='b'"}],"mark":{"type":"line","color":"#0000ff","strokeWidth":1,"clip":true}},
   {"transform":[{"filter":"datum.s==='g'"}],"mark":{"type":"line","color":"#008000","strokeWidth":8.5,"clip":true},
    "encoding":{
     "x":{"field":"t","type":"quantitative","axis":{"orient":"top","labels":false,"grid":false,"title":null,"values":[26,30,34,38,42,46]}},
     "y":{"field":"v","type":"quantitative","axis":{"orient":"right","labels":false,"grid":false,"title":null,"values":[-200,-100,0,100,200]}}
    }}
  ]
 }
]
}
